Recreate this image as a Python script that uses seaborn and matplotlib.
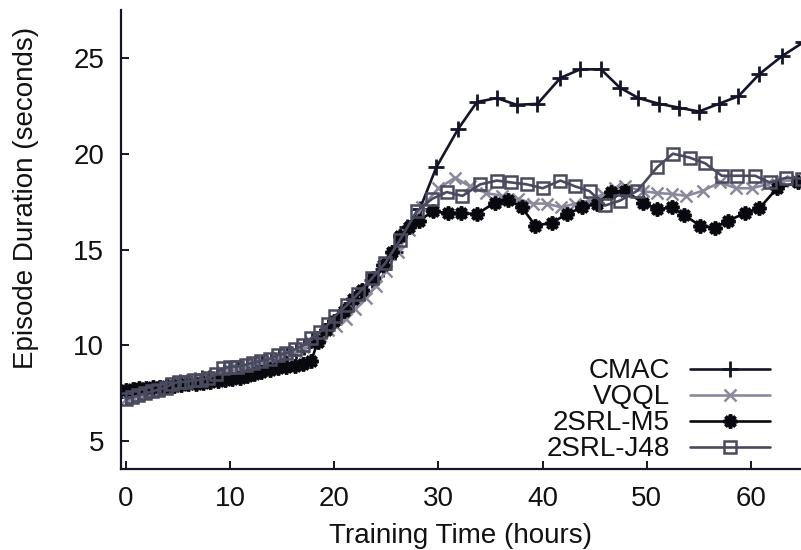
import matplotlib
matplotlib.use("Agg")
import matplotlib.pyplot as plt
import seaborn as sns

# ── data (training time in hours, duration in s) ──
cmac_x = [0.0, 0.6, 1.2, 1.9, 2.5, 3.2, 3.8, 4.5, 5.2, 5.9, 6.6, 7.3, 8.0,
          8.7, 9.4, 10.1, 10.8, 11.6, 12.4, 13.1, 13.9, 14.7, 15.5, 16.3,
          17.1, 17.9, 18.8, 19.7, 20.6, 21.6, 22.6, 23.6, 24.7, 25.8, 27.0,
          28.2, 29.8, 31.9, 33.7, 35.6, 37.5, 39.5, 41.7, 43.6, 45.6, 47.4,
          49.2, 51.2, 53.1, 55.0, 56.9, 58.8, 60.8, 63.0, 65.0]
cmac_y = [7.3, 7.4, 7.5, 7.6, 7.7, 7.8, 7.9, 8.0, 8.1, 8.1, 8.2, 8.3, 8.3,
          8.4, 8.6, 8.7, 8.8, 8.9, 9.0, 9.1, 9.2, 9.4, 9.5, 9.7,
          9.9, 10.3, 10.7, 11.1, 11.6, 12.2, 12.8, 13.4, 14.0, 14.9, 16.2,
          17.1, 19.3, 21.3, 22.7, 22.9, 22.55, 22.6, 23.95, 24.4, 24.4, 23.45,
          22.9, 22.6, 22.4, 22.2, 22.6, 23.0, 24.15, 25.1, 25.8]

vqql_x = [0.0, 0.6, 1.2, 1.8, 2.5, 3.1, 3.8, 4.4, 5.1, 5.8, 6.5, 7.2, 7.9,
          8.6, 9.3, 10.0, 10.7, 11.5, 12.2, 13.0, 13.8, 14.6, 15.4, 16.2,
          17.0, 17.8, 18.6, 19.4, 20.2, 21.1, 22.0, 23.0, 24.0, 25.0, 26.1,
          27.2, 28.4, 30.0, 31.6, 33.0, 34.6, 36.1, 37.6, 39.1, 40.4, 41.8,
          43.1, 44.5, 45.8, 46.9, 47.9, 49.6, 51.0, 52.4, 53.8, 55.4, 57.0,
          58.6, 60.1, 61.5, 63.0, 64.5]
vqql_y = [7.2, 7.3, 7.4, 7.5, 7.6, 7.7, 7.8, 7.9, 8.0, 8.1, 8.2, 8.2, 8.3,
          8.4, 8.6, 8.7, 8.8, 8.9, 9.0, 9.1, 9.3, 9.4, 9.6, 9.7,
          9.9, 10.2, 10.5, 10.8, 11.0, 11.4, 11.9, 12.5, 13.1, 13.9, 14.9,
          16.0, 17.2, 18.2, 18.75, 18.3, 17.95, 17.8, 17.65, 17.4, 17.4, 17.2,
          17.4, 17.55, 17.9, 18.2, 18.3, 18.05, 17.95, 17.9, 17.8, 18.07, 18.5,
          18.2, 18.2, 18.4, 18.6, 18.6]

m5_x = [0.0, 0.65, 1.3, 1.95, 2.6, 3.25, 3.9, 4.6, 5.3, 6.0, 6.7, 7.4, 8.1,
        8.8, 9.5, 10.2, 10.9, 11.6, 12.3, 13.0, 13.8, 14.6, 15.4, 16.2,
        17.0, 17.8, 18.4, 19.2, 20.0, 20.9, 21.8, 22.7, 23.7, 24.7, 25.5,
        26.3, 27.2, 28.1, 29.5, 30.9, 32.2, 33.7, 35.4, 36.7, 38.0, 39.3,
        40.9, 42.3, 43.8, 45.2, 46.6, 47.9, 49.6, 51.0, 52.4, 53.6, 55.1,
        56.5, 57.8, 59.4, 60.8, 62.5, 64.5]
m5_y = [7.7, 7.75, 7.8, 7.8, 7.85, 7.85, 7.9, 7.9, 7.95, 8.0, 8.0, 8.05, 8.1,
        8.15, 8.2, 8.25, 8.3, 8.4, 8.5, 8.6, 8.7, 8.8, 8.9, 8.95,
        9.05, 9.2, 10.2, 10.8, 11.3, 11.8, 12.4, 12.9, 13.5, 14.2, 14.9,
        15.7, 16.2, 16.5, 17.0, 16.9, 16.9, 16.85, 17.45, 17.6, 17.2, 16.25,
        16.4, 16.85, 17.2, 17.4, 18.0, 18.07, 17.45, 17.1, 17.2, 16.8, 16.25,
        16.15, 16.5, 16.9, 17.15, 18.2, 18.5]

j48_x = [0.0, 0.6, 1.2, 1.8, 2.5, 3.1, 3.8, 4.4, 5.1, 5.8, 6.5, 7.2, 7.9,
         8.6, 9.3, 10.0, 10.7, 11.5, 12.2, 13.0, 13.8, 14.6, 15.4, 16.2,
         17.0, 17.8, 18.6, 19.4, 20.1, 21.2, 22.3, 23.6, 24.9, 26.3, 27.9,
         29.4, 30.8, 32.3, 34.0, 35.6, 37.0, 38.5, 40.0, 41.7, 43.1, 44.5,
         46.0, 47.4, 49.1, 51.0, 52.5, 54.1, 55.6, 57.2, 58.7, 60.4, 61.8,
         63.4, 64.9]
j48_y = [7.2, 7.3, 7.4, 7.5, 7.6, 7.7, 7.8, 8.0, 8.1, 8.1, 8.2, 8.2, 8.3,
         8.5, 8.8, 8.9, 8.9, 9.0, 9.1, 9.2, 9.3, 9.5, 9.6, 9.8,
         10.0, 10.4, 10.7, 11.1, 11.56, 12.1, 12.7, 13.5, 14.3, 15.5, 17.0,
         17.65, 18.0, 17.8, 18.4, 18.6, 18.5, 18.4, 18.2, 18.6, 18.3, 18.05,
         17.3, 17.55, 18.07, 19.3, 20.0, 19.8, 19.5, 18.85, 18.85, 18.85, 18.5,
         18.75, 18.7]

SERIES = [
    # label,       x,      y,      colour,    marker,     size, edge width
    ("CMAC",      cmac_x, cmac_y, "#15152a", "+",         12, 2.0),
    ("VQQL",      vqql_x, vqql_y, "#8a8a9c", "x",          8, 1.8),
    ("2SRL-M5",   m5_x,   m5_y,   "#08080f", (8, 2, 0),   10, 2.6),
    ("2SRL-J48",  j48_x,  j48_y,  "#4a4a5e", "s",          9, 1.8),
]

sns.set_theme(style="ticks")
plt.rcParams["font.family"] = ["Liberation Sans", "DejaVu Sans"]
plt.rcParams["text.color"] = "#111111"
plt.rcParams["axes.labelcolor"] = "#111111"

fig = plt.figure(figsize=(8.01, 5.5), dpi=100)
ax = fig.add_axes([0.151, 0.147, 0.849, 0.835])

for label, xs, ys, colour, marker, ms, mew in SERIES:
    sns.lineplot(
        x=xs, y=ys, ax=ax, sort=False, estimator=None,
        color=colour, linewidth=1.9, label=label,
        marker=marker, markersize=ms, markeredgewidth=mew,
        markeredgecolor=colour,
        markerfacecolor="none" if marker == "s" else colour,
    )

ax.set_xlim(-0.48, 64.8)
ax.set_ylim(3.55, 27.5)
ax.set_xticks([0, 10, 20, 30, 40, 50, 60])
ax.set_yticks([5, 10, 15, 20, 25])

sns.despine(ax=ax)
for side in ("left", "bottom"):
    ax.spines[side].set_linewidth(1.6)
    ax.spines[side].set_color("#15152a")
ax.tick_params(direction="in", length=5.5, width=1.4, colors="#15152a",
               labelsize=20, labelcolor="#111111", pad=12)

ax.set_xlabel("Training Time (hours)", fontsize=20)
ax.set_ylabel("Episode Duration (seconds)", fontsize=20)
ax.xaxis.set_label_coords(0.5, -0.117)
ax.yaxis.set_label_coords(-0.12, 0.59)

ax.legend(
    loc="lower right", bbox_to_anchor=(0.955, 0.015),
    frameon=False, markerfirst=False, fontsize=20,
    handlelength=2.9, handletextpad=0.72, labelspacing=0.0,
    borderpad=0, borderaxespad=0,
)

fig.savefig("out.png", dpi=100)
